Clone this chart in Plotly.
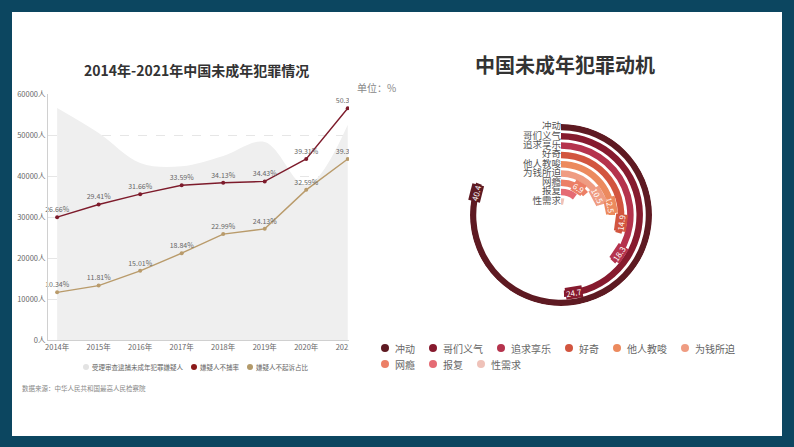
import math
import plotly.graph_objects as go

W, H = 794, 447

# ---------------- data ----------------
years = ["2014年", "2015年", "2016年", "2017年", "2018年", "2019年", "2020年", "2021年"]
suspects = [56600, 50500, 43200, 42400, 44900, 48300, 37700, 52500]
non_arrest_rate = [26.66, 29.41, 31.66, 33.59, 34.13, 34.43, 39.31, 50.32]
non_prosecution_rate = [10.34, 11.81, 15.01, 18.84, 22.99, 24.13, 32.59, 39.30]
y_ticks = [0, 10000, 20000, 30000, 40000, 50000, 60000]
left_series = ["受理审查逮捕未成年犯罪嫌疑人", "嫌疑人不捕率", "嫌疑人不起诉占比"]

motives = ["冲动", "哥们义气", "追求享乐", "好奇", "他人教唆", "为钱所迫", "网瘾", "报复", "性需求"]
motive_values = [40.4, 24.7, 18.3, 14.9, 12.5, 10.5, 6.9, 5.2, 1.6]
motive_max = 50

# ---------------- styles ----------------
FONT = "Noto Sans CJK SC"
FRAME = "#0c4660"
AREA_C = "#efefef"
RED_C = "#7d1b2b"
TAN_C = "#b99b6b"
left_legend_colors = ["#e3e3e3", "#8b1a1a", "#b39a6a"]
motive_colors = ["#5e1a22", "#861a2e", "#b5334d", "#d2553f", "#ec8a5e",
                 "#ef9c82", "#ec7f66", "#e56b74", "#efc2b9"]


def px(x):
    return x / W


def py(y):
    return 1 - y / H


fig = go.Figure()
annotations = []
shapes = [
    dict(type="rect", xref="paper", yref="paper", x0=px(12), x1=px(782),
         y0=py(436), y1=py(12), fillcolor="white", line=dict(width=0), layer="below"),
]

# mask: the original left chart is cut off just after the 2021 point
shapes.append(dict(type="rect", xref="paper", yref="paper", x0=px(349), x1=px(374),
                   y0=py(362), y1=py(80), fillcolor="white", line=dict(width=0),
                   layer="above"))

# ---------------- left chart ----------------
fig.add_trace(go.Scatter(
    x=years, y=suspects, mode="lines", line=dict(width=0, shape="spline", smoothing=1.0),
    fill="tozeroy", fillcolor=AREA_C, showlegend=False, hoverinfo="skip",
    xaxis="x", yaxis="y"))

fig.add_trace(go.Scatter(
    x=years, y=non_arrest_rate, mode="lines+markers+text",
    line=dict(color=RED_C, width=1.4), marker=dict(size=4, color=RED_C),
    text=[f"{v:.2f}%" for v in non_arrest_rate], textposition="top center",
    textfont=dict(size=7, color="#666"), cliponaxis=False,
    showlegend=False, xaxis="x", yaxis="y2"))

fig.add_trace(go.Scatter(
    x=years, y=non_prosecution_rate, mode="lines+markers+text",
    line=dict(color=TAN_C, width=1.4), marker=dict(size=4, color=TAN_C),
    text=[f"{v:.2f}%" for v in non_prosecution_rate], textposition="top center",
    textfont=dict(size=7, color="#666"), cliponaxis=False,
    showlegend=False, xaxis="x", yaxis="y2"))


def add_legend_row(names, colors, x_start, y, fsize, dot, text_off, gap):
    x = x_start
    for name, col in zip(names, colors):
        shapes.append(dict(type="circle", xref="paper", yref="paper",
                           xsizemode="pixel", ysizemode="pixel",
                           xanchor=px(x), yanchor=py(y),
                           x0=-dot / 2, x1=dot / 2, y0=-dot / 2, y1=dot / 2,
                           fillcolor=col, line=dict(width=0), layer="above"))
        annotations.append(dict(x=px(x + text_off), y=py(y), xref="paper", yref="paper",
                                xanchor="left", yanchor="middle", showarrow=False,
                                text=name, font=dict(size=fsize, color="#666"),
                                borderpad=0))
        x = x + text_off + len(name) * fsize + gap


add_legend_row(left_series, left_legend_colors, 86, 367, 6.5, 6, 5, 12)

# ---------------- right chart (radial bars) ----------------
cx, cy, R = 561, 215, 91
ring_r = [88 - 9.3 * k for k in range(len(motives))]
thick = 6.5
deg = [v * 360 / motive_max for v in motive_values]

fig.add_trace(go.Barpolar(
    r=[thick] * len(motives), base=[rr - thick / 2 for rr in ring_r],
    theta=[d / 2 for d in deg], width=deg,
    marker=dict(color=motive_colors, line=dict(width=0)),
    showlegend=False, subplot="polar", hoverinfo="skip"))

fig.add_trace(go.Scatterpolar(
    r=ring_r, theta=[0] * len(motives), mode="text", text=motives,
    textposition="middle left", textfont=dict(size=9.5, color="#555"),
    showlegend=False, subplot="polar", hoverinfo="skip"))

add_legend_row(motives[:6], motive_colors[:6], 385, 348, 10, 8, 9, 19)
add_legend_row(motives[6:], motive_colors[6:], 385, 364, 10, 8, 9, 19)

# value labels along the rings
for k in range(7):
    r = ring_r[k]
    th = deg[k] - math.degrees(10 / r)
    ax = cx + r * math.sin(math.radians(th))
    ay = cy - r * math.cos(math.radians(th))
    ang = th if th <= 90 else (th - 180 if th < 270 else th - 360)
    annotations.append(dict(
        x=px(ax), y=py(ay), xref="paper", yref="paper", showarrow=False,
        xanchor="center", yanchor="middle",
        text=f"{motive_values[k]}", textangle=ang,
        font=dict(size=8, color="white"), bgcolor=motive_colors[k], borderpad=0))

annotations += [
    dict(x=px(196), y=py(70), xref="paper", yref="paper", showarrow=False,
         xanchor="center", yanchor="middle",
         text="<b>2014年-2021年中国未成年犯罪情况</b>",
         font=dict(size=14, color="#333")),
    dict(x=px(376), y=py(87), xref="paper", yref="paper", showarrow=False,
         xanchor="center", yanchor="middle",
         text="单位：%", font=dict(size=10, color="#888")),
    dict(x=px(20), y=py(388), xref="paper", yref="paper", showarrow=False,
         xanchor="left", yanchor="middle", text="数据来源：中华人民共和国最高人民检察院",
         font=dict(size=6.5, color="#888")),
    dict(x=px(565), y=py(65), xref="paper", yref="paper", showarrow=False,
         xanchor="center", yanchor="middle",
         text="<b>中国未成年犯罪动机</b>", font=dict(size=20, color="#333")),
]

fig.update_layout(
    width=W, height=H, margin=dict(l=0, r=0, t=0, b=0, autoexpand=False),
    paper_bgcolor=FRAME, plot_bgcolor="rgba(0,0,0,0)",
    font=dict(family=FONT, color="#555"),
    xaxis=dict(domain=[px(48), px(349)], type="category", range=[-0.22, 7.03],
               showline=True, linecolor="#d0d0d0", linewidth=1, showgrid=False,
               tickfont=dict(size=7.5, color="#666"), ticks="", fixedrange=True),
    yaxis=dict(domain=[py(340), py(94)], range=[0, 60000], tickvals=y_ticks,
               ticktext=[f"{v}人" for v in y_ticks], tickfont=dict(size=7.5, color="#666"),
               showline=True, linecolor="#d0d0d0", linewidth=1, showgrid=True,
               gridcolor="#e6e6e6", griddash="dash", gridwidth=0.8, zeroline=False, ticks=""),
    yaxis2=dict(overlaying="y", range=[0, 53.4], visible=False),
    polar=dict(domain=dict(x=[px(cx - R), px(cx + R)], y=[py(cy + R), py(cy - R)]),
               bgcolor="rgba(0,0,0,0)", hole=0,
               radialaxis=dict(range=[0, R], visible=False),
               angularaxis=dict(direction="clockwise", rotation=90, visible=False)),
    annotations=annotations, shapes=shapes, showlegend=False,
)

fig.write_html("out.html")
